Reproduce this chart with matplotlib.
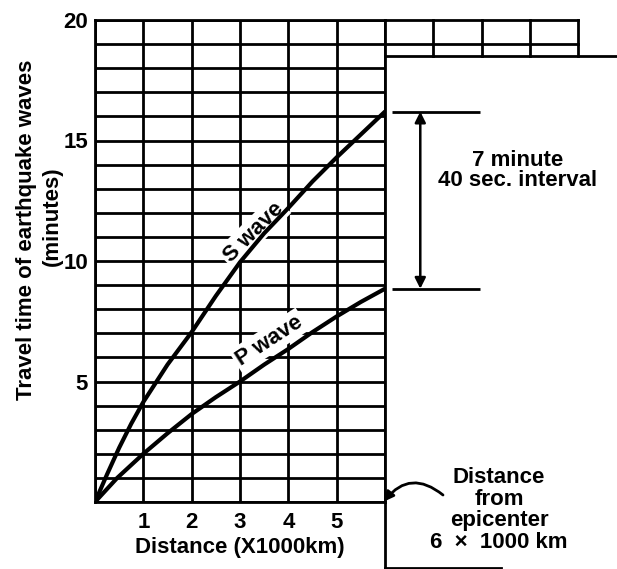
import matplotlib
matplotlib.use("Agg")
import matplotlib.pyplot as plt

plt.rcParams["font.family"] = ["Liberation Sans", "DejaVu Sans"]
plt.rcParams["font.weight"] = "bold"
plt.rcParams["axes.labelweight"] = "bold"

# travel-time curves (distance in 1000 km, time in minutes)
s_dist = [0, 0.25, 0.5, 0.75, 1, 1.5, 2, 2.5, 3, 3.5, 4, 4.5, 5, 5.5, 6]
s_time = [0, 1.15, 2.25, 3.25, 4.15, 5.7, 7.05, 8.55, 9.95, 11.15, 12.2, 13.3, 14.3, 15.25, 16.2]
p_dist = [0, 0.46, 1, 1.5, 2, 2.5, 3, 3.5, 4, 4.5, 5, 5.5, 6]
p_time = [0, 1, 2.0, 2.85, 3.65, 4.35, 5.0, 5.7, 6.35, 7.05, 7.7, 8.3, 8.85]

x_ticks = [1, 2, 3, 4, 5]
y_ticks = [5, 10, 15, 20]
x_max = 6
y_max = 20
ext_cols = [7, 8, 9, 10]   # grid columns sticking out at the top
ext_bottom = 18.5

W, H = 617, 569
fig = plt.figure(figsize=(W / 100, H / 100), dpi=100)
ax = fig.add_axes([95 / W, 67 / H, 290 / W, 482 / H])
ax.set_xlim(0, x_max)
ax.set_ylim(0, y_max)

lw = 2.0
ax.set_xticks(x_ticks)
ax.set_yticks(y_ticks)
ax.set_xticks(range(0, x_max + 1), minor=True)
ax.set_yticks(range(0, y_max + 1), minor=True)
ax.set_axisbelow(True)
ax.grid(which="both", color="black", lw=lw)
ax.tick_params(which="both", length=0, labelsize=16)
ax.tick_params(axis="y", pad=5)
ax.tick_params(axis="x", pad=7)
for sp in ax.spines.values():
    sp.set_linewidth(lw)

# top extension of the grid and the frame around the right part
ax.plot([x_max, ext_cols[-1]], [y_max, y_max], color="k", lw=lw, clip_on=False)
ax.plot([x_max, ext_cols[-1]], [19, 19], color="k", lw=lw, clip_on=False)
ax.plot([x_max, 10.9], [ext_bottom, ext_bottom], color="k", lw=lw, clip_on=False)
for c in ext_cols:
    ax.plot([c, c], [ext_bottom, y_max], color="k", lw=lw, clip_on=False)
ax.plot([x_max, x_max], [-2.72, 0], color="k", lw=lw, clip_on=False)
ax.plot([x_max, 8.4], [-2.72, -2.72], color="k", lw=lw, clip_on=False)

# curves
ax.plot(s_dist, s_time, color="k", lw=3.0, zorder=5, solid_capstyle="round",
        solid_joinstyle="round")
ax.plot(p_dist, p_time, color="k", lw=3.0, zorder=5, solid_capstyle="round",
        solid_joinstyle="round")

box = dict(facecolor="white", edgecolor="none", pad=2)
ax.text(3.28, 11.2, "S wave", rotation=45, fontsize=16, ha="center",
        va="center", rotation_mode="anchor", bbox=box, zorder=4)
ax.text(3.6, 6.7, "P wave", rotation=33, fontsize=16, ha="center",
        va="center", rotation_mode="anchor", bbox=box, zorder=4)

# interval annotation
ax.hlines([s_time[-1], p_time[-1]], 6.15, 7.97, color="k", lw=lw, clip_on=False)
ax.annotate("", xy=(6.73, s_time[-1]), xytext=(6.73, p_time[-1]),
            arrowprops=dict(arrowstyle="<|-|>", color="k", lw=1.8,
                            mutation_scale=16, shrinkA=0, shrinkB=0),
            annotation_clip=False)
ax.text(8.74, 13.75, "7 minute\n40 sec. interval", fontsize=16,
        ha="center", va="center", linespacing=0.95)

# epicenter distance note
ax.text(8.36, -0.33, "Distance\nfrom\nepicenter\n6  \u00d7  1000 km", fontsize=16,
        ha="center", va="center", linespacing=1.05)
ax.annotate("", xy=(5.98, 0.02), xytext=(7.2, 0.29),
            arrowprops=dict(arrowstyle="-|>", color="k", lw=2.0,
                            mutation_scale=14, shrinkA=0, shrinkB=0,
                            connectionstyle="arc3,rad=0.5"),
            annotation_clip=False)

# axis labels
ax.set_xlabel("Distance (X1000km)", fontsize=16, fontweight="bold")
ax.xaxis.set_label_coords(0.5, -(548 - 502) / 482)
ax.xaxis.label.set_va("center")
fig.text(27 / W, 1 - 230 / H, "Travel time of earthquake waves", rotation=90,
         fontsize=16, ha="center", va="center")
fig.text(52 / W, 1 - 216 / H, "(minutes)", rotation=90,
         fontsize=16, ha="center", va="center")

fig.savefig("out.png", dpi=100)
